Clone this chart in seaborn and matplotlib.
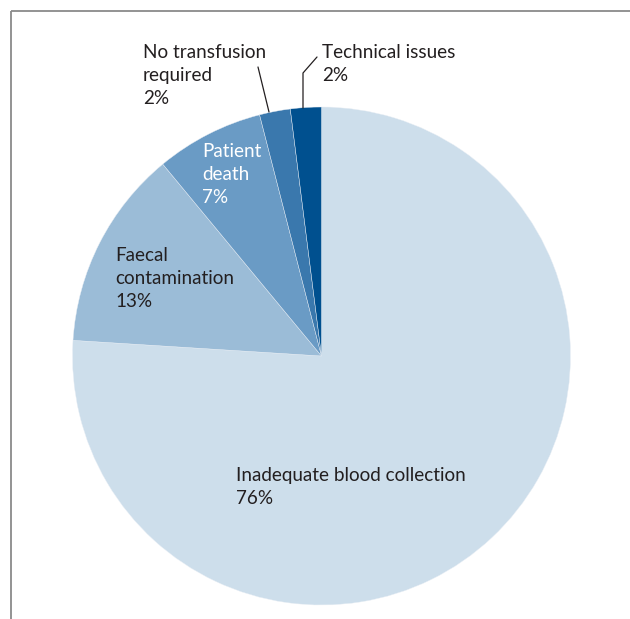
import matplotlib
matplotlib.use("Agg")
import matplotlib.pyplot as plt
import seaborn as sns

# data
labels = ["Inadequate blood collection", "Faecal\ncontamination", "Patient\ndeath",
          "No transfusion\nrequired", "Technical issues"]
shares = [76, 13, 7, 2, 2]
colors = ["#cddeeb", "#9bbcd7", "#6a9bc5", "#3a78ad", "#00508f"]

sns.set_theme(style="white")
plt.rcParams["font.family"] = ["Lato", "DejaVu Sans"]

W, H = 630, 619
fig = plt.figure(figsize=(W / 100, H / 100), dpi=100)
ax = fig.add_axes([0, 0, 1, 1])


def Y(py):
    return H - py


cx, cy, r = 321.5, Y(356), 249
ax.pie(shares, colors=colors, startangle=90, counterclock=False,
       center=(cx, cy), radius=r, wedgeprops=dict(linewidth=0.3, edgecolor="#e8eef5"))
ax.set_xlim(0, W)
ax.set_ylim(0, H)
ax.set_aspect("equal")
ax.axis("off")

# frame (top and left only)
ax.plot([11, 11], [Y(11), Y(H)], color="#8a8a8a", lw=1.3, solid_capstyle="butt")
ax.plot([11, W], [Y(11), Y(11)], color="#8a8a8a", lw=1.3, solid_capstyle="butt")

fs = 13.6
txt = dict(fontsize=fs, ha="left", va="top", linespacing=1.43)
ax.text(143, Y(44), f"{labels[3]}\n{shares[3]}%", color="#231f20", **txt)
ax.text(322, Y(44), f"{labels[4]}\n{shares[4]}%", color="#231f20", **txt)
ax.text(202, Y(143), f"{labels[2]}\n{shares[2]}%", color="white", **txt)
ax.text(115, Y(247), f"{labels[1]}\n{shares[1]}%", color="#231f20", **txt)
ax.text(236, Y(467), f"{labels[0]}\n{shares[0]}%", color="#231f20", **txt)

# leader lines
ax.plot([258, 269], [Y(67), Y(112)], color="#231f20", lw=0.9)
ax.plot([317, 303, 303], [Y(57), Y(73), Y(108)], color="#231f20", lw=0.9)

fig.savefig("out.png", dpi=100)
